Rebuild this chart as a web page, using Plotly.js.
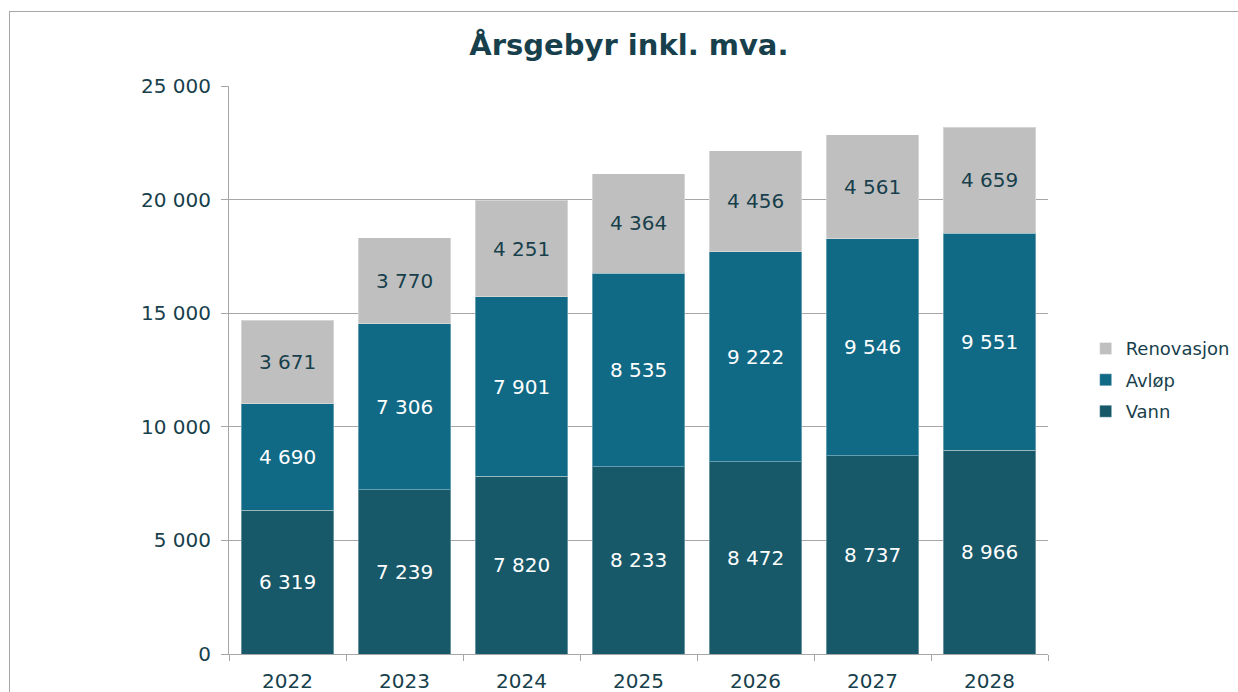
<!DOCTYPE html>
<html><head><meta charset="utf-8">
<script src="https://cdn.plot.ly/plotly-3.0.1.min.js"></script>
<style>
html,body{margin:0;padding:0;overflow:hidden;background:#fff;}
#chart{width:1238px;height:692px;}
#frame{position:absolute;left:9px;top:11px;width:1400px;height:900px;border:1px solid #a6a6a6;pointer-events:none;}
</style></head>
<body>
<div id="chart"></div>
<div id="frame"></div>
<script>
const years = ['2022','2023','2024','2025','2026','2027','2028'];
const vann = [6319, 7239, 7820, 8233, 8472, 8737, 8966];
const avlop = [4690, 7306, 7901, 8535, 9222, 9546, 9551];
const renovasjon = [3671, 3770, 4251, 4364, 4456, 4561, 4659];
const yTicks = [0, 5000, 10000, 15000, 20000, 25000];

const font = 'DejaVu Sans, Verdana, sans-serif';
const dark = '#183f4c';

function tr(name, y, color, txtColor, rank){
  return {
    type:'bar', name:name, x:years, y:y, legendgroup:name, legendrank:rank,
    marker:{color:color, line:{color:'rgba(255,255,255,0.35)', width:1}},
    text:y, texttemplate:'%{y:,d}', textposition:'inside', insidetextanchor:'middle',
    textfont:{family:font, size:20, color:txtColor}, constraintext:'none',
    hoverinfo:'skip'
  };
}
const data = [
  tr('Vann', vann, '#175869', '#ffffff', 3),
  tr('Avløp', avlop, '#106985', '#ffffff', 2),
  tr('Renovasjon', renovasjon, '#bfbfbf', dark, 1)
];
const layout = {
  width:1238, height:692,
  margin:{l:229, r:190, t:86, b:38, autoexpand:false},
  barmode:'stack', bargap:0.21,
  separators:', ',
  paper_bgcolor:'#fff', plot_bgcolor:'#fff',
  font:{family:font, color:dark, size:20},
  title:{text:'<b>Årsgebyr inkl. mva.</b>', x:0.508, xanchor:'center', y:0.935, yanchor:'middle',
    font:{family:font, size:29, color:dark}},
  xaxis:{type:'category', tickson:'boundaries', ticks:'outside', ticklen:6, tickcolor:'#a6a6a6',
    showline:true, linecolor:'#a6a6a6', linewidth:1, showgrid:false, zeroline:false,
    tickfont:{family:font, size:20, color:dark}, ticklabelstandoff:9},
  yaxis:{range:[0,25000], tickvals:yTicks, tickformat:',d', ticks:'outside', ticklen:7, tickcolor:'#a6a6a6',
    showline:true, linecolor:'#a6a6a6', linewidth:1, showgrid:true, gridcolor:'#a6a6a6', gridwidth:1,
    zeroline:false, tickfont:{family:font, size:20, color:dark}, ticklabelstandoff:6},
  legend:{x:1.046, xanchor:'left', y:0.482, yanchor:'middle', traceorder:'grouped',
    font:{family:font, size:18, color:dark}, itemwidth:30, tracegroupgap:5},
  showlegend:true
};
Plotly.newPlot('chart', data, layout, {displayModeBar:false, staticPlot:true});
</script>
</body></html>
